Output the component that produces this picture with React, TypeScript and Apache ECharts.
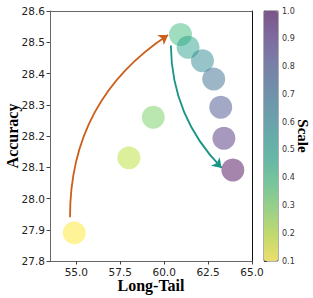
import React, { useEffect, useRef } from "react";
import * as echarts from "echarts";

const longTail = [54.88, 57.99, 59.38, 60.93, 61.36, 62.18, 62.82, 63.22, 63.4, 63.91];
const accuracy = [27.89, 28.13, 28.26, 28.525, 28.484, 28.441, 28.382, 28.292, 28.193, 28.091];
const scaleValues = [0.1, 0.2, 0.3, 0.4, 0.5, 0.6, 0.7, 0.8, 0.9, 1.0];
const xTicks = [55, 57.5, 60, 62.5, 65];
const orangeArrow = [[54.64, 27.94], [60.22, 28.523]];
const tealArrow = [[60.38, 28.49], [63.27, 28.098]];
const viridisR = ["#fde725", "#bddf26", "#7ad151", "#44bf70", "#22a884", "#21918c", "#2a788e", "#355f8d", "#414487", "#482475", "#440154"];

function withAlpha(hex: string, a: number) {
  const r = parseInt(hex.slice(1, 3), 16);
  const g = parseInt(hex.slice(3, 5), 16);
  const b = parseInt(hex.slice(5, 7), 16);
  return `rgba(${r},${g},${b},${a})`;
}

export default function App() {
  const ref = useRef<HTMLDivElement>(null);
  useEffect(() => {
    if (!ref.current) return;
    const chart = echarts.init(ref.current, null, { renderer: "svg" });
    const tickFont = { fontFamily: "DejaVu Sans", fontSize: 10.5, color: "#222" };
    chart.setOption({
      animation: false,
      backgroundColor: "#fff",
      grid: [
        { left: 50, top: 11, width: 202, height: 250, show: false, containLabel: false, outerBoundsMode: "none" },
        { left: 264, top: 11, width: 14, height: 250, show: true, borderColor: "#333", borderWidth: 0.8, backgroundColor: "transparent", containLabel: false, outerBoundsMode: "none" },
      ],
      xAxis: [
        {
          type: "value", gridIndex: 0, min: 53.5, max: 65,
          name: "Long-Tail", nameLocation: "middle", nameGap: 16, nameMoveOverlap: false,
          nameTextStyle: { fontFamily: "Liberation Serif", fontWeight: "bold", fontSize: 16, color: "#000" },
          axisLine: { show: true, lineStyle: { color: "#666", width: 1 } },
          axisTick: { show: true, length: 3.5, lineStyle: { color: "#444" }, customValues: xTicks },
          axisLabel: { ...tickFont, margin: 5, customValues: xTicks, formatter: (v: number) => v.toFixed(1) },
          splitLine: { show: false },
        },
        { type: "value", gridIndex: 1, min: 0, max: 1, show: false },
        {
          type: "value", gridIndex: 0, min: 53.5, max: 65, position: "top",
          axisLine: { show: true, lineStyle: { color: "#666" } }, axisTick: { show: false }, axisLabel: { show: false }, splitLine: { show: false },
        },
      ],
      yAxis: [
        {
          type: "value", gridIndex: 0, min: 27.8, max: 28.6, interval: 0.1,
          name: "Accuracy", nameLocation: "middle", nameGap: 30, nameMoveOverlap: false,
          nameTextStyle: { fontFamily: "Liberation Serif", fontWeight: "bold", fontSize: 16, color: "#000" },
          axisLine: { show: true, lineStyle: { color: "#666" } },
          axisTick: { show: true, length: 3.5, lineStyle: { color: "#444" } },
          axisLabel: { ...tickFont, margin: 5, formatter: (v: number) => v.toFixed(1) },
          splitLine: { show: false },
        },
        {
          type: "value", gridIndex: 1, min: 0.1, max: 1.0, interval: 0.1, position: "right",
          name: "Scale", nameLocation: "middle", nameGap: 17, nameRotate: -90, nameMoveOverlap: false,
          nameTextStyle: { fontFamily: "Liberation Serif", fontWeight: "bold", fontSize: 15, color: "#000" },
          axisLine: { show: false },
          axisTick: { show: true, length: 3, lineStyle: { color: "#444" } },
          axisLabel: { fontFamily: "DejaVu Sans", fontSize: 8, color: "#333", margin: 4, formatter: (v: number) => v.toFixed(1) },
          splitLine: { show: false },
        },
        {
          type: "value", gridIndex: 0, min: 27.8, max: 28.6, position: "right",
          axisLine: { show: true, lineStyle: { color: "#111" } }, axisTick: { show: false }, axisLabel: { show: false }, splitLine: { show: false },
        },
      ],
      visualMap: {
        type: "continuous", min: 0.1, max: 1.0, dimension: 2, seriesIndex: 0,
        calculable: false, orient: "vertical", left: 264, top: 11, padding: 0,
        itemWidth: 14, itemHeight: 250, text: null, showLabel: false, hoverLink: false,
        inRange: { color: viridisR.map((c) => withAlpha(c, 0.6)) },
      },
      series: [
        {
          type: "scatter", xAxisIndex: 0, yAxisIndex: 0, symbolSize: 23, z: 3,
          data: longTail.map((x, i) => [x, accuracy[i], scaleValues[i]]),
        },
        {
          type: "lines", coordinateSystem: "cartesian2d", xAxisIndex: 0, yAxisIndex: 0, z: 2,
          symbol: ["none", "arrow"], symbolSize: 9,
          lineStyle: { color: "#cc5f1a", width: 1.8, curveness: 0.27, opacity: 1 },
          data: [{ coords: orangeArrow }],
        },
        {
          type: "lines", coordinateSystem: "cartesian2d", xAxisIndex: 0, yAxisIndex: 0, z: 2,
          symbol: ["none", "arrow"], symbolSize: 9,
          lineStyle: { color: "#1a9485", width: 1.8, curveness: -0.2, opacity: 1 },
          data: [{ coords: tealArrow }],
        },
      ],
    });
    return () => chart.dispose();
  }, []);
  return <div ref={ref} style={{ position: "fixed", left: 0, top: 0, width: 313, height: 298 }} />;
}
